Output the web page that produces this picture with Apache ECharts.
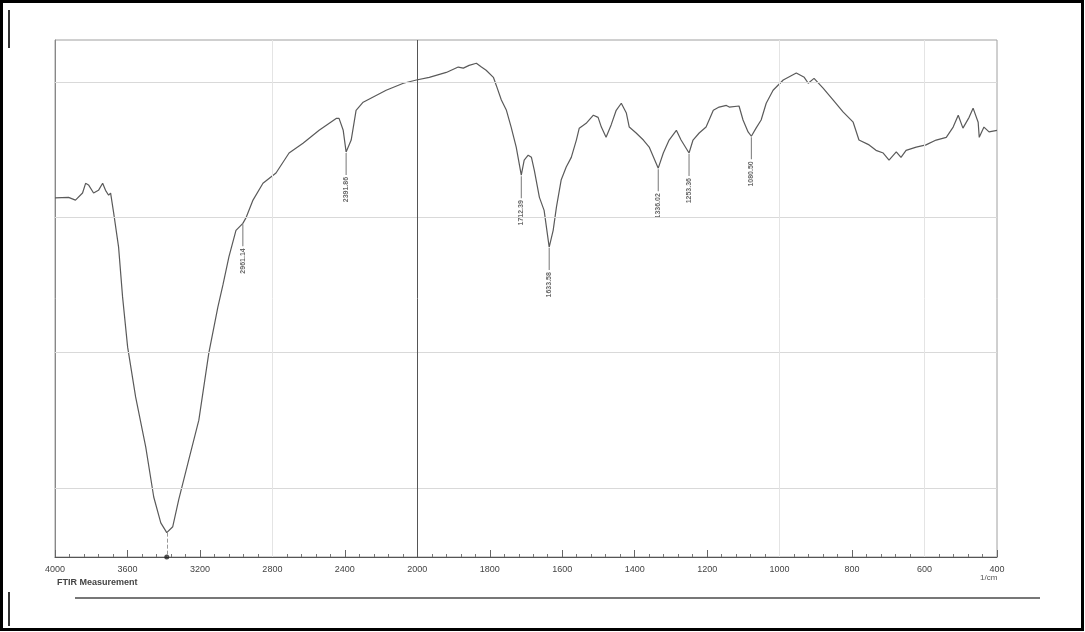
<!DOCTYPE html>
<html>
<head>
<meta charset="utf-8">
<script src="https://cdn.jsdelivr.net/npm/echarts@6/dist/echarts.min.js"></script>
<style>html,body{margin:0;padding:0;background:#fff;}#chart{width:1085px;height:632px;}</style>
</head>
<body>
<div id="chart"></div>
<script>
// Wavenumbers (1/cm) and transmittance (%T)
const wavenumbers = [4000,3925,3887,3848,3831,3815,3787,3760,3737,3721,3704,3693,3676,3649,3627,3599,3555,3499,3455,3416,3383,3350,3317,3262,3206,3151,3101,3073,3040,3001,2963,2946,2907,2852,2780,2708,2631,2542,2448,2432,2409,2393,2365,2338,2299,2172,2077,2005,
1967,1920,1887,1873,1857,1837,1823,1810,1790,1782,1768,1754,1741,1727,1713,1705,1694,1685,1677,1663,1650,1636,1625,1616,1603,1589,1575,1561,1553,1534,1514,1501,1492,1479,1465,1451,1437,1423,1415,1396,1376,1360,1335,1321,1305,1285,1272,1250,1239,1222,1203,1183,1167,1147,1139,1112,1101,1087,1078,1065,1051,1037,1018,990,954,932,921,905,880,852,825,797,781,753,734,714,698,678,665,651,623,596,568,540,521,507,494,477,466,452,449,436,422,400];
const transmittance = [78.6,78.7,78.2,79.5,81.3,81.0,79.5,80.0,81.3,80.0,79.1,79.5,75.8,69.5,60.3,51.0,41.8,32.5,23.3,18.5,16.7,17.8,22.8,30.1,37.5,49.9,58.4,62.5,67.7,72.6,73.9,74.9,78.2,81.3,83.2,86.9,88.7,91.1,93.3,93.3,91.1,87.1,89.3,94.8,96.3,98.5,99.8,100.4,
100.9,101.8,102.8,102.6,103.1,103.5,102.8,102.2,100.9,99.4,96.7,94.8,91.7,88.0,82.8,85.6,86.5,86.1,83.7,78.7,76.3,69.5,72.6,76.9,81.9,84.3,86.1,89.3,91.5,92.4,93.9,93.5,91.7,89.8,92.1,94.8,96.1,94.3,91.7,90.6,89.3,88.0,84.1,86.9,89.3,91.1,89.3,86.9,89.3,90.6,91.7,94.8,95.4,95.7,95.4,95.6,93.0,90.8,90.0,91.5,93.0,96.1,98.5,100.4,101.7,100.9,99.8,100.7,98.9,96.7,94.5,92.6,89.3,88.4,87.4,86.9,85.6,87.1,86.1,87.4,88.0,88.4,89.3,89.8,91.7,93.9,91.5,93.5,95.2,92.6,89.8,91.7,90.8,91.1];
// Labelled peaks
const peakWavenumbers = [2963, 2393, 1713, 1636, 1335, 1250, 1078];
const peakTransmittance = [73.9, 87.1, 82.8, 69.5, 84.1, 86.9, 90.0];
const peakLabels = ['2961.14', '2391.86', '1712.39', '1633.58', '1336.02', '1253.36', '1080.50'];
// Axis tick labels (wavenumber, 1/cm)
const tickWavenumbers = [4000,3600,3200,2800,2400,2000,1800,1600,1400,1200,1000,800,600,400];
const gridT = [25, 50, 75, 100];
const gridWavenumbersFaint = [2800, 1000, 600];
const minimumWavenumber = 3383;
const minimumT = 16.7;

// Chart x-scale: half scale above 2000 1/cm (as on the spectrometer print)
function toAxis(w) { return w > 2000 ? 2000 + (w - 2000) / 2 : w; }
function fromAxis(t) { return t > 2000 ? 2000 + (t - 2000) * 2 : t; }

const yMin = 12.2, yMax = 107.8;
const lineData = wavenumbers.map((w, i) => [toAxis(w), transmittance[i]]);
const peakData = peakWavenumbers.map((w, i) => ({ value: [toAxis(w), peakTransmittance[i]], name: peakLabels[i] }));
const tickSet = new Set(tickWavenumbers.map(String));

const gridColor = '#d9d9d9';
const markLines = [];
gridT.forEach(v => markLines.push({ yAxis: v, lineStyle: { color: gridColor, width: 1, type: 'solid' } }));
gridWavenumbersFaint.forEach(w => markLines.push({ xAxis: toAxis(w), lineStyle: { color: '#e4e4e4', width: 1, type: 'solid' } }));
markLines.push({ xAxis: toAxis(2000), lineStyle: { color: '#555', width: 1, type: 'solid' } });
markLines.push([{ coord: [toAxis(minimumWavenumber), minimumT], lineStyle: { color: '#999', width: 1, type: 'dashed' } }, { coord: [toAxis(minimumWavenumber), yMin] }]);

const chart = echarts.init(document.getElementById('chart'), null, { renderer: 'canvas' });
chart.setOption({
  backgroundColor: '#fff',
  animation: false,
  grid: { left: 55, right: 88, top: 40, bottom: 75, show: true, borderColor: '#a0a0a0', borderWidth: 1 },
  xAxis: {
    type: 'value', min: 400, max: 3000, interval: 200, inverse: true,
    axisLine: { show: true, onZero: false, lineStyle: { color: '#555', width: 1 } },
    axisTick: { show: true, inside: true, length: 7, lineStyle: { color: '#666' } },
    minorTick: { show: true, splitNumber: 5, length: 3, lineStyle: { color: '#777' } },
    axisLabel: {
      color: '#444', fontSize: 9, fontFamily: 'Liberation Sans', margin: 8,
      formatter: v => { const w = Math.round(fromAxis(v)); return tickSet.has(String(w)) ? String(w) : ''; }
    },
    splitLine: { show: false }
  },
  yAxis: {
    type: 'value', min: yMin, max: yMax,
    axisLine: { show: true, lineStyle: { color: '#888' } },
    axisTick: { show: false }, axisLabel: { show: false }, splitLine: { show: false }
  },
  series: [
    {
      type: 'line', data: lineData, showSymbol: false, symbol: 'none', smooth: false,
      lineStyle: { color: '#5a5a5a', width: 1.2 },
      markLine: { silent: true, symbol: 'none', label: { show: false }, data: markLines }
    },
    {
      type: 'scatter', data: peakData, symbol: 'rect', symbolSize: [1, 22], symbolOffset: [0, 12],
      itemStyle: { color: '#555' },
      label: {
        show: true, position: 'bottom', distance: 2, rotate: 90, align: 'right', verticalAlign: 'middle',
        formatter: p => p.name, fontSize: 7, color: '#444', fontFamily: 'Liberation Sans', fontWeight: 'bold'
      }
    },
    {
      type: 'scatter', data: [[toAxis(minimumWavenumber), yMin]], symbol: 'circle', symbolSize: 5,
      itemStyle: { color: '#222' }
    }
  ],
  graphic: [
    { type: 'text', left: 57, top: 578, style: { text: 'FTIR Measurement', fontSize: 9, fill: '#444', fontFamily: 'Liberation Sans', fontWeight: 'bold' } },
    { type: 'text', left: 980, top: 574, style: { text: '1/cm', fontSize: 8, fill: '#555', fontFamily: 'Liberation Sans' } },
    { type: 'line', shape: { x1: 75, y1: 598, x2: 1040, y2: 598 }, style: { stroke: '#777', lineWidth: 2 } },
    { type: 'line', shape: { x1: 9, y1: 10, x2: 9, y2: 48 }, style: { stroke: '#333', lineWidth: 2 } },
    { type: 'line', shape: { x1: 9, y1: 592, x2: 9, y2: 626 }, style: { stroke: '#333', lineWidth: 2 } },
    { type: 'rect', shape: { x: 1.5, y: 1.5, width: 1081, height: 628 }, style: { fill: 'none', stroke: '#000', lineWidth: 3 } }
  ]
});
</script>
</body>
</html>
